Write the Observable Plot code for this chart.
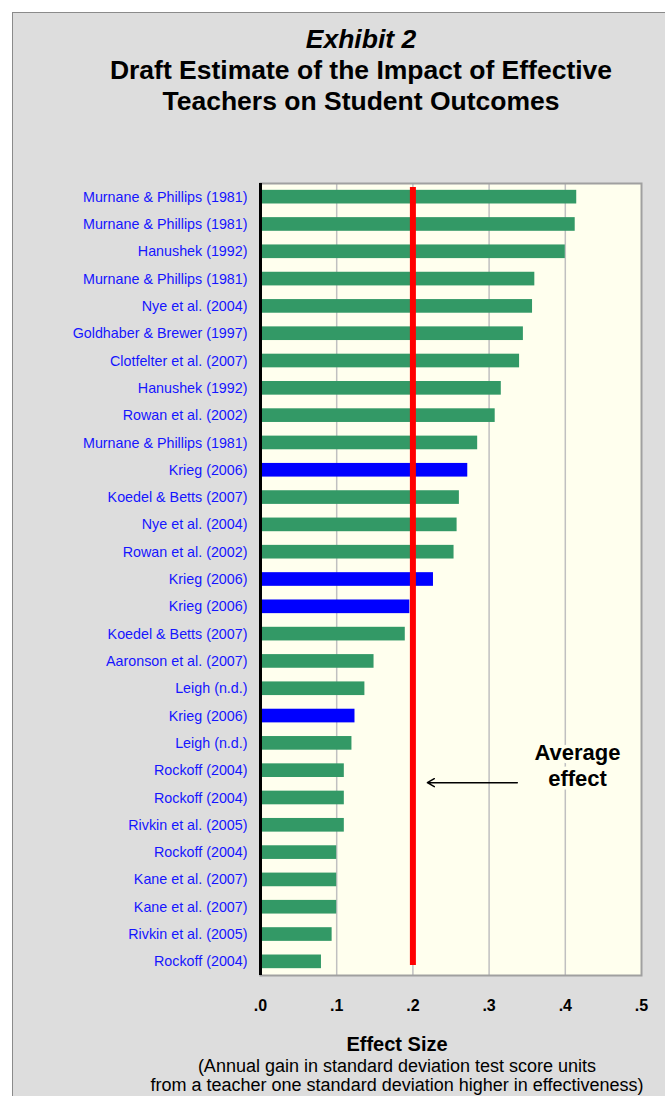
<!DOCTYPE html>
<html>
<head>
<meta charset="utf-8">
<script src="https://cdn.jsdelivr.net/npm/d3@7"></script>
<script src="https://cdn.jsdelivr.net/npm/@observablehq/plot@0.6"></script>
<style>
  html, body { margin: 0; padding: 0; background: white; overflow: hidden; }
  #wrap { position: relative; width: 665px; height: 1096px; overflow: hidden; background: white;
          font-family: "Liberation Sans", Arial, sans-serif; }
  #panel { position: absolute; left: 12px; top: 12px; width: 660px; height: 1100px;
           background: #DDDDDD; border: 1px solid #8a8a8a; box-sizing: border-box; }
  #chart { position: absolute; left: 0; top: 0; }
  .txt { position: absolute; text-align: center; white-space: nowrap; color: #000; }
  #title { left: 61px; width: 600px; top: 23.5px; font-size: 26.5px; line-height: 31px; font-weight: bold; }
  #xlabel { left: 97px; width: 600px; top: 1034px; font-size: 20px; line-height: 20px; font-weight: bold; }
  #xsub { left: 97px; width: 600px; top: 1057px; font-size: 18px; line-height: 19px; }
</style>
</head>
<body>
<div id="wrap">
  <div id="panel"></div>
  <div id="chart"></div>
  <div class="txt" id="title"><i>Exhibit 2</i><br>Draft Estimate of the Impact of Effective<br>Teachers on Student Outcomes</div>
  <div class="txt" id="xlabel">Effect Size</div>
  <div class="txt" id="xsub">(Annual gain in standard deviation test score units<br>from a teacher one standard deviation higher in effectiveness)</div>
</div>
<script>
const studies = [
  "Murnane & Phillips (1981)", "Murnane & Phillips (1981)", "Hanushek (1992)",
  "Murnane & Phillips (1981)", "Nye et al. (2004)", "Goldhaber & Brewer (1997)",
  "Clotfelter et al. (2007)", "Hanushek (1992)", "Rowan et al. (2002)",
  "Murnane & Phillips (1981)", "Krieg (2006)", "Koedel & Betts (2007)",
  "Nye et al. (2004)", "Rowan et al. (2002)", "Krieg (2006)", "Krieg (2006)",
  "Koedel & Betts (2007)", "Aaronson et al. (2007)", "Leigh (n.d.)", "Krieg (2006)",
  "Leigh (n.d.)", "Rockoff (2004)", "Rockoff (2004)", "Rivkin et al. (2005)",
  "Rockoff (2004)", "Kane et al. (2007)", "Kane et al. (2007)", "Rivkin et al. (2005)",
  "Rockoff (2004)"
];
const effects = [
  0.415, 0.413, 0.400, 0.360, 0.357, 0.345, 0.340, 0.316, 0.308, 0.285,
  0.272, 0.261, 0.258, 0.254, 0.227, 0.196, 0.190, 0.149, 0.137, 0.124,
  0.120, 0.110, 0.110, 0.110, 0.100, 0.100, 0.100, 0.094, 0.080
];
const highlightedStudy = "Krieg (2006)";
const averageEffect = 0.2;
const xTicks = [0, 0.1, 0.2, 0.3, 0.4, 0.5];
const gridTicks = [0.1, 0.2, 0.3, 0.4];
const annotation = [{label: "Average\neffect", x: 0.416, row: 21}];
const arrowSpec = [{x1: 0.337, x2: 0.219, row: 21}];

const data = studies.map((s, i) => ({
  i, study: s, effect: effects[i],
  group: s === highlightedStudy ? "Krieg" : "Other"
}));

const chart = Plot.plot({
  width: 665,
  height: 1096,
  marginLeft: 260,
  marginRight: 24,
  marginTop: 183,
  marginBottom: 121,
  style: {background: "transparent", fontFamily: "'Liberation Sans', Arial, sans-serif", overflow: "visible"},
  x: {domain: [0, 0.5]},
  y: {type: "band", domain: d3.range(studies.length), paddingInner: 0.5, paddingOuter: 0.25, round: false},
  color: {domain: ["Other", "Krieg"], range: ["#339966", "#0000FF"]},
  marks: [
    Plot.frame({fill: "#FFFFEE"}),
    Plot.gridX({ticks: gridTicks, stroke: "#C0C0C0", strokeOpacity: 1, strokeWidth: 1.5}),
    Plot.frame({stroke: "#A0A0A0", strokeWidth: 2}),
    Plot.barX(data, {x: "effect", y: "i", fill: "group"}),
    Plot.ruleX([averageEffect], {stroke: "#FF0000", strokeWidth: 6, insetTop: 4, insetBottom: 10}),
    Plot.ruleX([0], {stroke: "black", strokeWidth: 3}),
    Plot.text(annotation, {x: "x", y: "row", text: "label", fontSize: 22, fontWeight: "bold",
      lineHeight: 1.18, dy: -6, fill: "black", stroke: "#FFFFEE", strokeWidth: 7}),
    Plot.arrow(arrowSpec, {x1: "x1", x2: "x2", y1: "row", y2: "row", dy: 12,
      stroke: "black", strokeWidth: 1.5, headLength: 8}),
    Plot.axisY({tickFormat: i => studies[i], tickSize: 0, tickPadding: 13, fontSize: 14.3,
      fill: "#1515ff", label: null}),
    Plot.axisX({ticks: xTicks, tickFormat: d => d3.format(".1f")(d).replace(/^0/, ""),
      tickSize: 0, tickPadding: 24, fontSize: 16, fontWeight: "bold", fill: "black", label: null})
  ]
});
document.getElementById("chart").appendChild(chart);
</script>
</body>
</html>
